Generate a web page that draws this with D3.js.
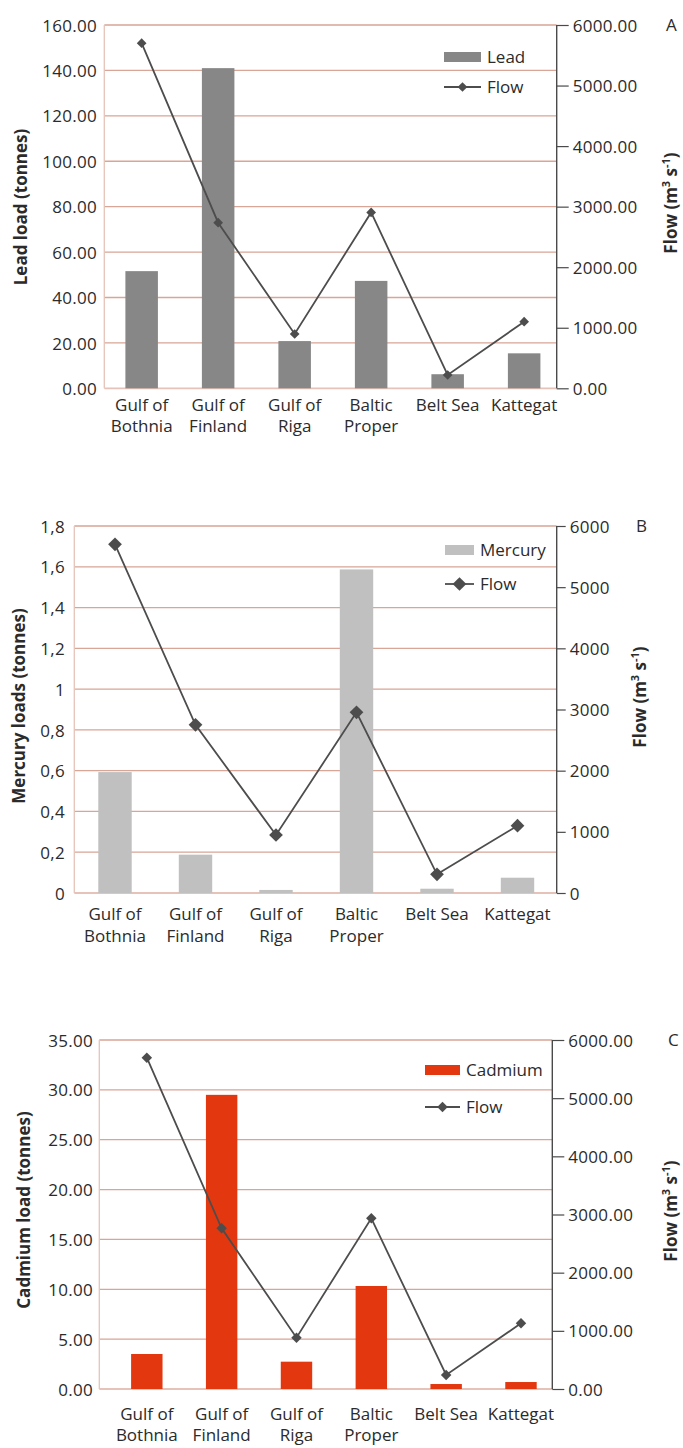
<!DOCTYPE html>
<html>
<head>
<meta charset="utf-8">
<script src="https://cdn.jsdelivr.net/npm/d3@7"></script>
<style>
  html, body { margin: 0; padding: 0; background: #ffffff; }
  svg { display: block; }
  text { font-family: "Open Sans", sans-serif; fill: #2b2b2b; }
</style>
</head>
<body>
<svg id="chart" width="683" height="1448"></svg>
<script>
// ---------- DATA ----------
const categories = ["Gulf of Bothnia", "Gulf of Finland", "Gulf of Riga", "Baltic Proper", "Belt Sea", "Kattegat"];
const categoryLines = [["Gulf of", "Bothnia"], ["Gulf of", "Finland"], ["Gulf of", "Riga"], ["Baltic", "Proper"], ["Belt Sea"], ["Kattegat"]];

const leadLoad = [51.6, 141.0, 20.8, 47.3, 6.2, 15.4];
const flowA = [5700, 2735, 897, 2905, 220, 1100];
const leadTicks = [0, 20, 40, 60, 80, 100, 120, 140, 160];
const flowTicksA = [0, 1000, 2000, 3000, 4000, 5000, 6000];

const mercuryLoad = [0.593, 0.188, 0.015, 1.587, 0.021, 0.075];
const flowB = [5700, 2750, 948, 2954, 305, 1100];
const mercuryTicks = [0, 0.2, 0.4, 0.6, 0.8, 1.0, 1.2, 1.4, 1.6, 1.8];
const flowTicksB = [0, 1000, 2000, 3000, 4000, 5000, 6000];

const cadmiumLoad = [3.51, 29.5, 2.74, 10.33, 0.5, 0.70];
const flowC = [5696, 2763, 882, 2935, 241, 1129];
const cadmiumTicks = [0, 5, 10, 15, 20, 25, 30, 35];
const flowTicksC = [0, 1000, 2000, 3000, 4000, 5000, 6000];

// ---------- DRAWING ----------
const svg = d3.select("#chart");
const fmt2 = d3.format(".2f");
const fmtComma = v => (Math.round(v * 10) / 10).toString().replace(".", ",");
const fmtInt = d3.format("d");
const FS = 17;

function drawPanel(cfg) {
  const g = svg.append("g");
  const yL = d3.scaleLinear().domain([0, cfg.leftMax]).range([cfg.bottom, cfg.top]);
  const yR = d3.scaleLinear().domain([0, 6000]).range([cfg.bottom, cfg.top]);
  const x = d3.scaleBand().domain(categories).range(cfg.barRange).padding(0);
  const step = x.bandwidth();
  const bw = step * cfg.barFrac;
  const cx = c => x(c) + step / 2;

  // gridlines
  g.append("g").selectAll("line").data(cfg.leftTicks.filter(t => t > 0)).join("line")
    .attr("x1", cfg.axisL).attr("x2", cfg.axisR)
    .attr("y1", d => yL(d)).attr("y2", d => yL(d))
    .attr("stroke", "#d9a596").attr("stroke-width", 1.3);
  // baseline
  g.append("line").attr("x1", cfg.axisL).attr("x2", cfg.axisR)
    .attr("y1", yL(0)).attr("y2", yL(0))
    .attr("stroke", "#e6c3b8").attr("stroke-width", 1.8);
  // left axis line
  g.append("line").attr("x1", cfg.axisL).attr("x2", cfg.axisL)
    .attr("y1", yL(0)).attr("y2", cfg.top)
    .attr("stroke", "#e6c3b8").attr("stroke-width", 1.3);

  // bars
  g.append("g").selectAll("rect").data(categories).join("rect")
    .attr("x", c => cx(c) - bw / 2)
    .attr("width", bw)
    .attr("y", (c, i) => yL(cfg.bars[i]))
    .attr("height", (c, i) => yL(0) - yL(cfg.bars[i]))
    .attr("fill", cfg.barColor);

  // left axis labels
  const la = d3.axisLeft(yL).tickValues(cfg.leftTicks).tickSize(0).tickPadding(0).tickFormat(cfg.leftFmt);
  const lag = g.append("g").attr("transform", `translate(${cfg.leftLabelX},0)`).call(la);
  lag.select(".domain").remove();
  lag.selectAll("text").attr("font-size", FS).attr("font-family", "Open Sans").attr("fill", "#2b2b2b")
    .attr("letter-spacing", cfg.tickLS).attr("dy", "0.36em");

  // right axis
  const ra = d3.axisRight(yR).tickValues(cfg.rightTicks).tickSize(cfg.tickLen).tickPadding(4).tickFormat(cfg.rightFmt);
  const rag = g.append("g").attr("transform", `translate(${cfg.axisR},0)`).call(ra);
  rag.select(".domain").attr("stroke", "#4a4a4a").attr("stroke-width", 1.4)
    .attr("d", `M0,${cfg.bottom}V${cfg.top}`);
  rag.selectAll(".tick line").attr("stroke", "#4a4a4a").attr("stroke-width", 1.2);
  rag.selectAll("text").attr("font-size", FS).attr("font-family", "Open Sans").attr("fill", "#2b2b2b")
    .attr("letter-spacing", cfg.tickLS).attr("dy", "0.36em");

  // flow line
  const line = d3.line().x((d, i) => cx(categories[i])).y(d => yR(d));
  g.append("path").datum(cfg.flow).attr("d", line)
    .attr("fill", "none").attr("stroke", "#4d4d4d").attr("stroke-width", 1.8);
  const sym = d3.symbol().type(d3.symbolDiamond2).size(cfg.markerSize);
  g.append("g").selectAll("path").data(cfg.flow).join("path")
    .attr("transform", (d, i) => `translate(${cx(categories[i])},${yR(d)})`)
    .attr("d", sym).attr("fill", "#4d4d4d");

  // category labels
  const cl = g.append("g").selectAll("text").data(categories).join("text")
    .attr("x", c => cx(c)).attr("y", cfg.catY)
    .attr("text-anchor", "middle").attr("font-size", FS);
  cl.selectAll("tspan").data((c, i) => categoryLines[i]).join("tspan")
    .attr("x", function () { return this.parentNode.getAttribute("x"); })
    .attr("dy", (d, j) => j === 0 ? 0 : cfg.catGap)
    .text(d => d);

  // left title
  g.append("text")
    .attr("transform", `translate(${cfg.leftTitleX},${cfg.leftTitleY}) rotate(-90)`)
    .attr("text-anchor", "middle").attr("font-weight", "bold").attr("font-size", 17)
    .attr("dy", "0.35em").attr("fill", "#1a1a1a")
    .text(cfg.leftTitle);

  // right title
  const rt = g.append("text")
    .attr("transform", `translate(${cfg.rightTitleX},${cfg.rightTitleY}) rotate(-90)`)
    .attr("text-anchor", "middle").attr("font-weight", "bold").attr("font-size", 17)
    .attr("dy", "0.35em").attr("fill", "#1a1a1a");
  rt.append("tspan").text("Flow (m");
  rt.append("tspan").attr("baseline-shift", "super").attr("font-size", 11).text("3");
  rt.append("tspan").text(" s");
  rt.append("tspan").attr("baseline-shift", "super").attr("font-size", 11).text("-1");
  rt.append("tspan").text(")");

  // panel letter
  g.append("text").attr("x", cfg.letterX).attr("y", cfg.top).attr("dy", "0.36em")
    .attr("font-size", FS).text(cfg.letter);

  // legend
  const lg = g.append("g");
  lg.append("rect").attr("x", cfg.legX).attr("y", cfg.legY1 - 5).attr("width", cfg.legW).attr("height", 10)
    .attr("fill", cfg.barColor);
  lg.append("text").attr("x", cfg.legX + cfg.legW + 6).attr("y", cfg.legY1).attr("dy", "0.36em")
    .attr("font-size", FS).text(cfg.barName);
  lg.append("line").attr("x1", cfg.legX).attr("x2", cfg.legX + cfg.legW)
    .attr("y1", cfg.legY2).attr("y2", cfg.legY2).attr("stroke", "#4d4d4d").attr("stroke-width", 1.8);
  lg.append("path").attr("transform", `translate(${cfg.legX + cfg.legW / 2},${cfg.legY2})`)
    .attr("d", sym).attr("fill", "#4d4d4d");
  lg.append("text").attr("x", cfg.legX + cfg.legW + 6).attr("y", cfg.legY2).attr("dy", "0.36em")
    .attr("font-size", FS).text("Flow");
}

drawPanel({
  letter: "A", letterX: 666,
  top: 25, bottom: 388.3, leftMax: 160,
  axisL: 104.3, axisR: 556.7, barRange: [103.4, 562.4], barFrac: 0.425,
  bars: leadLoad, flow: flowA, barColor: "#878787", barName: "Lead",
  leftTicks: leadTicks, leftFmt: fmt2, leftLabelX: 97,
  rightTicks: flowTicksA, rightFmt: fmt2, tickLen: 12, tickLS: 0.3,
  markerSize: 60,
  catY: 411, catGap: 21,
  leftTitle: "Lead load (tonnes)", leftTitleX: 21, leftTitleY: 207,
  rightTitleX: 671, rightTitleY: 203,
  legX: 444, legW: 37, legY1: 57, legY2: 87
});

drawPanel({
  letter: "B", letterX: 636,
  top: 526, bottom: 893, leftMax: 1.8,
  axisL: 74.3, axisR: 556.7, barRange: [74.75, 557.75], barFrac: 0.415,
  bars: mercuryLoad, flow: flowB, barColor: "#c0c0c0", barName: "Mercury",
  leftTicks: mercuryTicks, leftFmt: fmtComma, leftLabelX: 65,
  rightTicks: flowTicksB, rightFmt: fmtInt, tickLen: 9, tickLS: 0.3,
  markerSize: 120,
  catY: 920, catGap: 22,
  leftTitle: "Mercury loads (tonnes)", leftTitleX: 19, leftTitleY: 706,
  rightTitleX: 640, rightTitleY: 697,
  legX: 445, legW: 29, legY1: 550, legY2: 584
});

drawPanel({
  letter: "C", letterX: 668,
  top: 1040, bottom: 1389, leftMax: 35,
  axisL: 99.3, axisR: 552.3, barRange: [109.4, 558.4], barFrac: 0.42,
  bars: cadmiumLoad, flow: flowC, barColor: "#e3380f", barName: "Cadmium",
  leftTicks: cadmiumTicks, leftFmt: fmt2, leftLabelX: 93,
  rightTicks: flowTicksC, rightFmt: fmt2, tickLen: 12, tickLS: 0.3,
  markerSize: 70,
  catY: 1420, catGap: 21,
  leftTitle: "Cadmium load (tonnes)", leftTitleX: 24, leftTitleY: 1210,
  rightTitleX: 671, rightTitleY: 1211,
  legX: 425, legW: 35, legY1: 1070, legY2: 1107
});
</script>
</body>
</html>
